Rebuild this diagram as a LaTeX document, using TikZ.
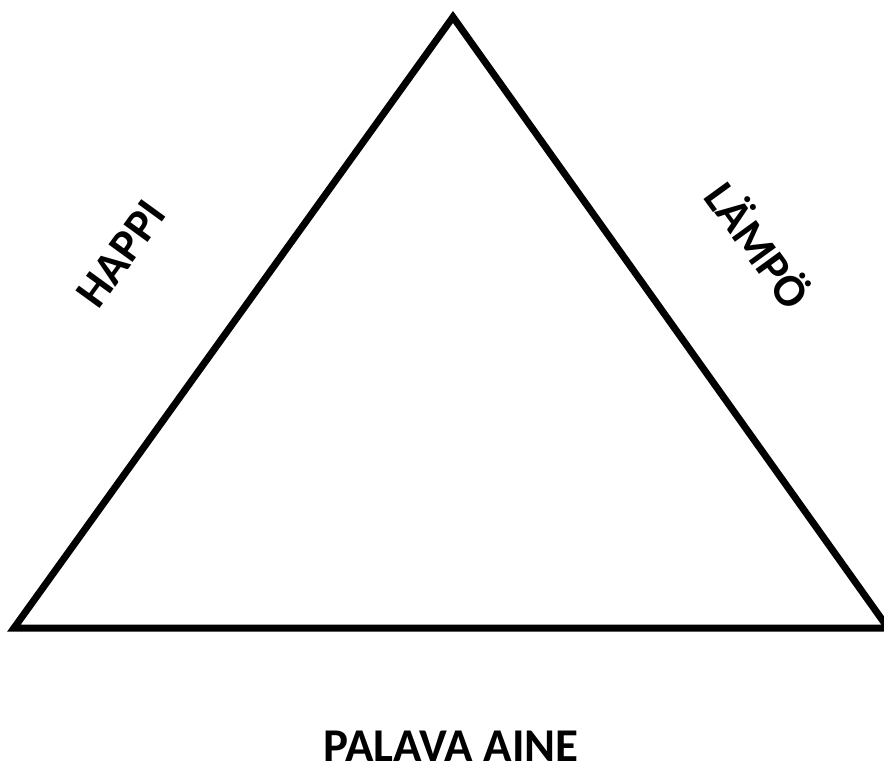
\documentclass[tikz,border=0pt]{standalone}
\usepackage{fontspec}
\setmainfont{Carlito}
\begin{document}
\begin{tikzpicture}[x=1pt,y=-1pt,
  side/.style={line width=7pt,line join=miter,black},
  lab/.style={font=\bfseries\fontsize{46}{52}\selectfont,inner sep=0pt},
  biglab/.style={font=\bfseries\fontsize{47}{54}\selectfont,inner sep=0pt}]
\useasboundingbox (0,0) rectangle (884,770);
\coordinate (top) at (453,17);
\coordinate (bl) at (14,628);
\coordinate (br) at (888,628);
\draw[side] (bl) -- (top) -- (br) -- cycle;
\node[lab,rotate=54] (happi) at (121,254) {HAPPI};
\node[lab,rotate=-54] (lampo) at (760,244) {LÄMPÖ};
\node[biglab,anchor=base] (palava) at (451,761) {PALAVA AINE};
\end{tikzpicture}
\end{document}
